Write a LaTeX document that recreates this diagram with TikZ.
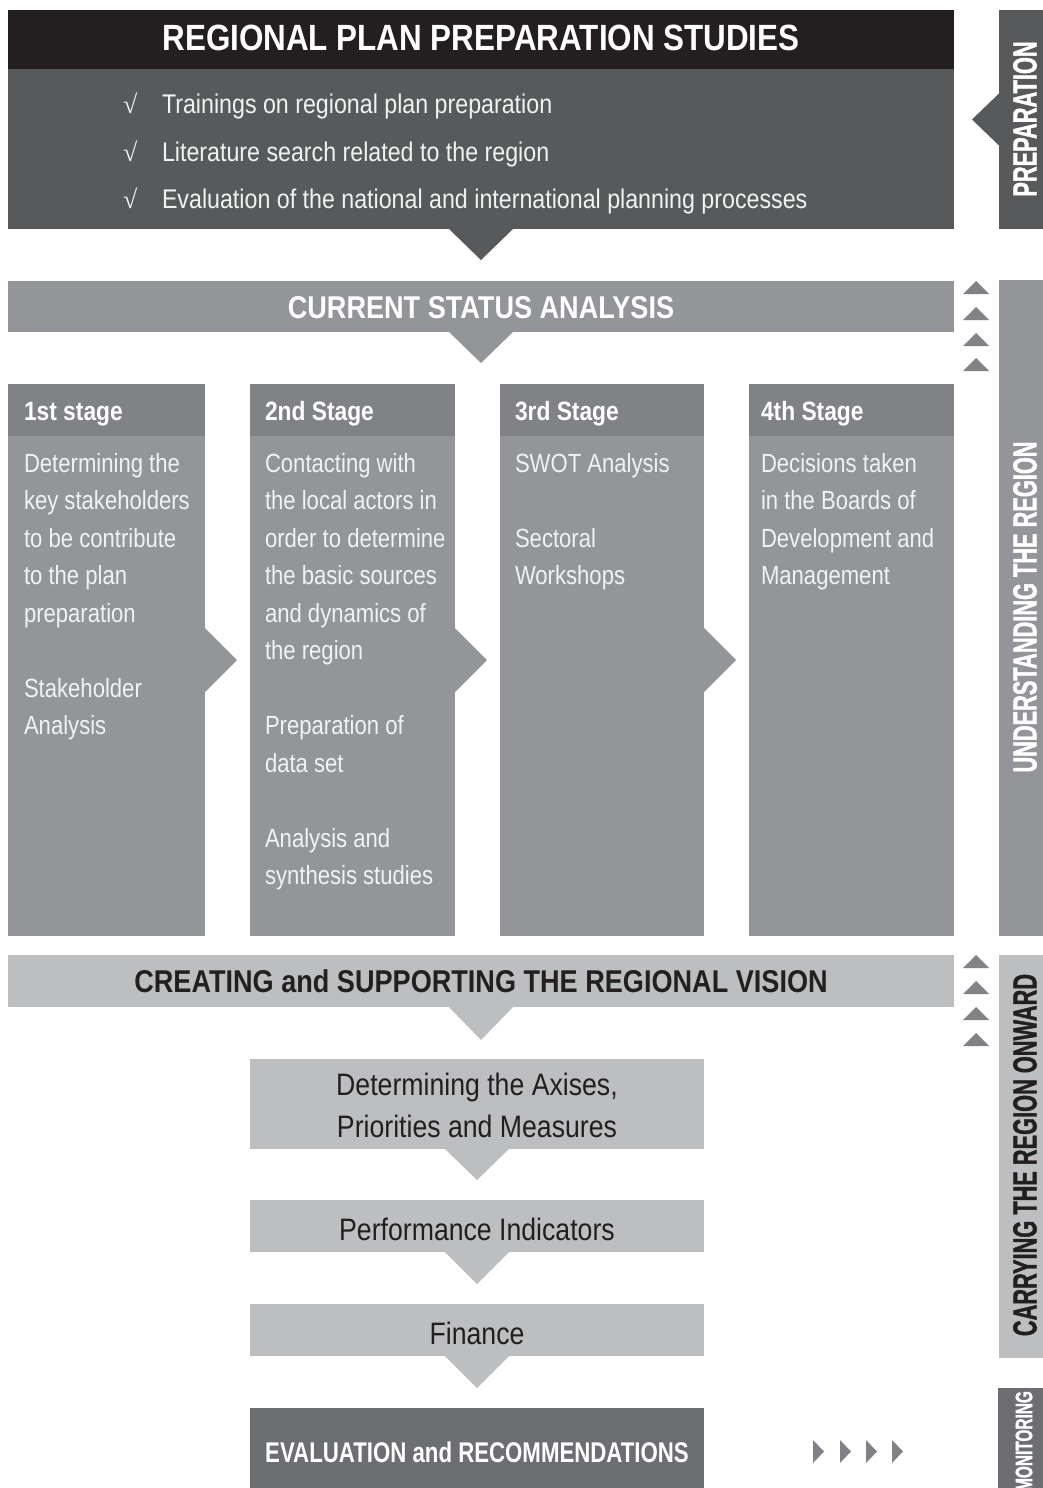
\documentclass[tikz,border=0pt]{standalone}
\usepackage{fontspec}
\setmainfont[FakeStretch=0.86]{Liberation Sans}
\newfontfamily\bodyfont[FakeStretch=0.84]{Liberation Sans}
\newfontfamily\evalfont[FakeStretch=0.78]{Liberation Sans}
\newfontfamily\sidefont[FakeStretch=0.65, FakeBold=1.2, UprightFont={* Bold}, BoldFont={* Bold}]{Liberation Sans}
\newfontfamily\checkfont{Liberation Serif}
\definecolor{cblack}{HTML}{231F20}
\definecolor{cdark}{HTML}{58595B}
\definecolor{cmid}{HTML}{808285}
\definecolor{cgray}{HTML}{939598}
\definecolor{clight}{HTML}{BCBEC0}
\definecolor{ceval}{HTML}{6D6E71}
\definecolor{ctext}{HTML}{F1F2F2}
\begin{document}
\begin{tikzpicture}[x=1pt,y=-1pt,
  panel/.style={rectangle, inner sep=0pt, outer sep=0pt, anchor=north west, draw=none},
  lbl/.style={inner sep=0pt, outer sep=0pt},
  bodytxt/.style={lbl, anchor=north west, align=left, text=ctext, font=\bodyfont\fontsize{26.3}{37.5}\selectfont},
  stagehd/.style={lbl, anchor=base west, text=white, font=\bfseries\fontsize{26.5}{30}\selectfont},
  sidetxt/.style={lbl, rotate=90, font=\sidefont\fontsize{33.5}{40}\selectfont},
  boxtxt/.style={lbl, anchor=base, text=cblack, font=\fontsize{31}{42}\selectfont},
  bultxt/.style={lbl, anchor=base west, text=ctext, font=\fontsize{27}{32}\selectfont},
  chk/.style={lbl, anchor=base west, text=ctext, font=\checkfont\fontsize{26}{30}\selectfont}]
\useasboundingbox (0,0) rectangle (1043,1488);
\fill[white] (0,0) rectangle (1043,1488);

% ---------- PREPARATION ----------
\node[panel, fill=cblack, minimum width=946pt, minimum height=59pt] (hdr) at (8,10) {};
\node[panel, fill=cdark, minimum width=946pt, minimum height=160pt] (prep) at (8,69) {};
\fill[cdark] (prep.south) ++(-32,0) -- ++(32,31) -- ++(32,-31) -- cycle;
\node[lbl, anchor=base, text=white, font=\bfseries\fontsize{36.5}{40}\selectfont] (title) at (481,51) {REGIONAL PLAN PREPARATION STUDIES};
\node[chk] (c1) at (123,113) {√};
\node[chk] (c2) at (123,161) {√};
\node[chk] (c3) at (123,208) {√};
\node[bultxt] (b1) at (162,113) {Trainings on regional plan preparation};
\node[bultxt] (b2) at (162,161) {Literature search related to the region};
\node[bultxt] (b3) at (162,208) {Evaluation of the national and international planning processes};

\node[panel, fill=cdark, minimum width=44pt, minimum height=219pt] (prepside) at (999,10) {};
\fill[cdark] (prepside.west) ++(0,-26) -- ++(-27,26) -- ++(27,26) -- cycle;
\node[sidetxt, text=white] (prepsidetxt) at (1025,119) {PREPARATION};

% ---------- CURRENT STATUS ----------
\node[panel, fill=cgray, minimum width=946pt, minimum height=51pt] (cur) at (8,281) {};
\fill[cgray] (cur.south) ++(-32,0) -- ++(32,31) -- ++(32,-31) -- cycle;
\node[lbl, anchor=base, text=white, font=\bfseries\fontsize{31.5}{36}\selectfont] (curtxt) at (481,318) {CURRENT STATUS ANALYSIS};

\foreach \yy in {281,307,333,358} {
  \fill[cmid] (963,\yy+13) -- (976,\yy) -- (989,\yy+13) -- cycle;
}
\node[panel, fill=cgray, minimum width=44pt, minimum height=656pt] (undside) at (999,280) {};
\node[sidetxt, text=white] (undsidetxt) at (1025,607) {UNDERSTANDING THE REGION};

% ---------- STAGES ----------
\node[panel, fill=cmid, minimum width=197pt, minimum height=52pt] (h1) at (8,384) {};
\node[panel, fill=cgray, minimum width=197pt, minimum height=500pt] (s1) at (8,436) {};
\fill[cgray] (s1.north east) ++(0,192) -- ++(32,32) -- ++(-32,32) -- cycle;
\node[panel, fill=cmid, minimum width=205pt, minimum height=52pt] (h2) at (250,384) {};
\node[panel, fill=cgray, minimum width=205pt, minimum height=500pt] (s2) at (250,436) {};
\fill[cgray] (s2.north east) ++(0,192) -- ++(32,32) -- ++(-32,32) -- cycle;
\node[panel, fill=cmid, minimum width=204pt, minimum height=52pt] (h3) at (500,384) {};
\node[panel, fill=cgray, minimum width=204pt, minimum height=500pt] (s3) at (500,436) {};
\fill[cgray] (s3.north east) ++(0,192) -- ++(32,32) -- ++(-32,32) -- cycle;
\node[panel, fill=cmid, minimum width=205pt, minimum height=52pt] (h4) at (749,384) {};
\node[panel, fill=cgray, minimum width=205pt, minimum height=500pt] (s4) at (749,436) {};

\node[stagehd] (h1t) at (24,420) {1st stage};
\node[stagehd] (h2t) at (265,420) {2nd Stage};
\node[stagehd] (h3t) at (515,420) {3rd Stage};
\node[stagehd] (h4t) at (761,420) {4th Stage};

\node[bodytxt] (s1t) at (24,453) {Determining the\\key stakeholders\\to be contribute\\to the plan\\preparation\\[37.5pt]Stakeholder\\Analysis};
\node[bodytxt] (s2t) at (265,453) {Contacting with\\the local actors in\\order to determine\\the basic sources\\and dynamics of\\the region\\[37.5pt]Preparation of\\data set\\[37.5pt]Analysis and\\synthesis studies};
\node[bodytxt] (s3t) at (515,453) {SWOT Analysis\\[37.5pt]Sectoral\\Workshops};
\node[bodytxt] (s4t) at (761,453) {Decisions taken\\in the Boards of\\Development and\\Management};

% ---------- CREATING ----------
\node[panel, fill=clight, minimum width=946pt, minimum height=52pt] (create) at (8,955) {};
\fill[clight] (create.south) ++(-32,0) -- ++(32,33) -- ++(32,-33) -- cycle;
\node[lbl, anchor=base, text=cblack, font=\bfseries\fontsize{31.5}{36}\selectfont] (createtxt) at (481,992) {CREATING and SUPPORTING THE REGIONAL VISION};

\foreach \yy in {955,981,1007,1033} {
  \fill[cmid] (963,\yy+13) -- (976,\yy) -- (989,\yy+13) -- cycle;
}
\node[panel, fill=clight, minimum width=44pt, minimum height=403pt] (carside) at (999,955) {};
\node[sidetxt, text=cblack] (carsidetxt) at (1025,1155) {CARRYING THE REGION ONWARD};

\node[panel, fill=clight, minimum width=454pt, minimum height=90pt] (axes) at (250,1059) {};
\fill[clight] (axes.south) ++(-32,0) -- ++(32,31) -- ++(32,-31) -- cycle;
\node[boxtxt] (axest1) at (477,1095) {Determining the Axises,};
\node[boxtxt] (axest2) at (477,1137) {Priorities and Measures};

\node[panel, fill=clight, minimum width=454pt, minimum height=52pt] (perf) at (250,1200) {};
\fill[clight] (perf.south) ++(-32,0) -- ++(32,32) -- ++(32,-32) -- cycle;
\node[boxtxt] (perft) at (477,1240) {Performance Indicators};

\node[panel, fill=clight, minimum width=454pt, minimum height=52pt] (fin) at (250,1304) {};
\fill[clight] (fin.south) ++(-32,0) -- ++(32,32) -- ++(32,-32) -- cycle;
\node[boxtxt] (fint) at (477,1344) {Finance};

\node[panel, fill=ceval, minimum width=454pt, minimum height=80pt] (eval) at (250,1408) {};
\node[lbl, anchor=base, text=white, font=\evalfont\bfseries\fontsize{28.5}{30}\selectfont] (evalt) at (477,1462) {EVALUATION and RECOMMENDATIONS};

\foreach \xx in {813,840,866,892} {
  \fill[cmid] (\xx,1440) -- (\xx+11,1451.5) -- (\xx,1463) -- cycle;
}
\node[panel, fill=ceval, minimum width=45pt, minimum height=100pt] (monside) at (998,1388) {};
\begin{scope}
  \clip (998,1388) rectangle (1043,1488);
  \node[lbl, rotate=90, text=white, font=\sidefont\fontsize{23.7}{28}\selectfont] (monsidetxt) at (1024,1441) {MONITORING};
\end{scope}
\end{tikzpicture}
\end{document}
